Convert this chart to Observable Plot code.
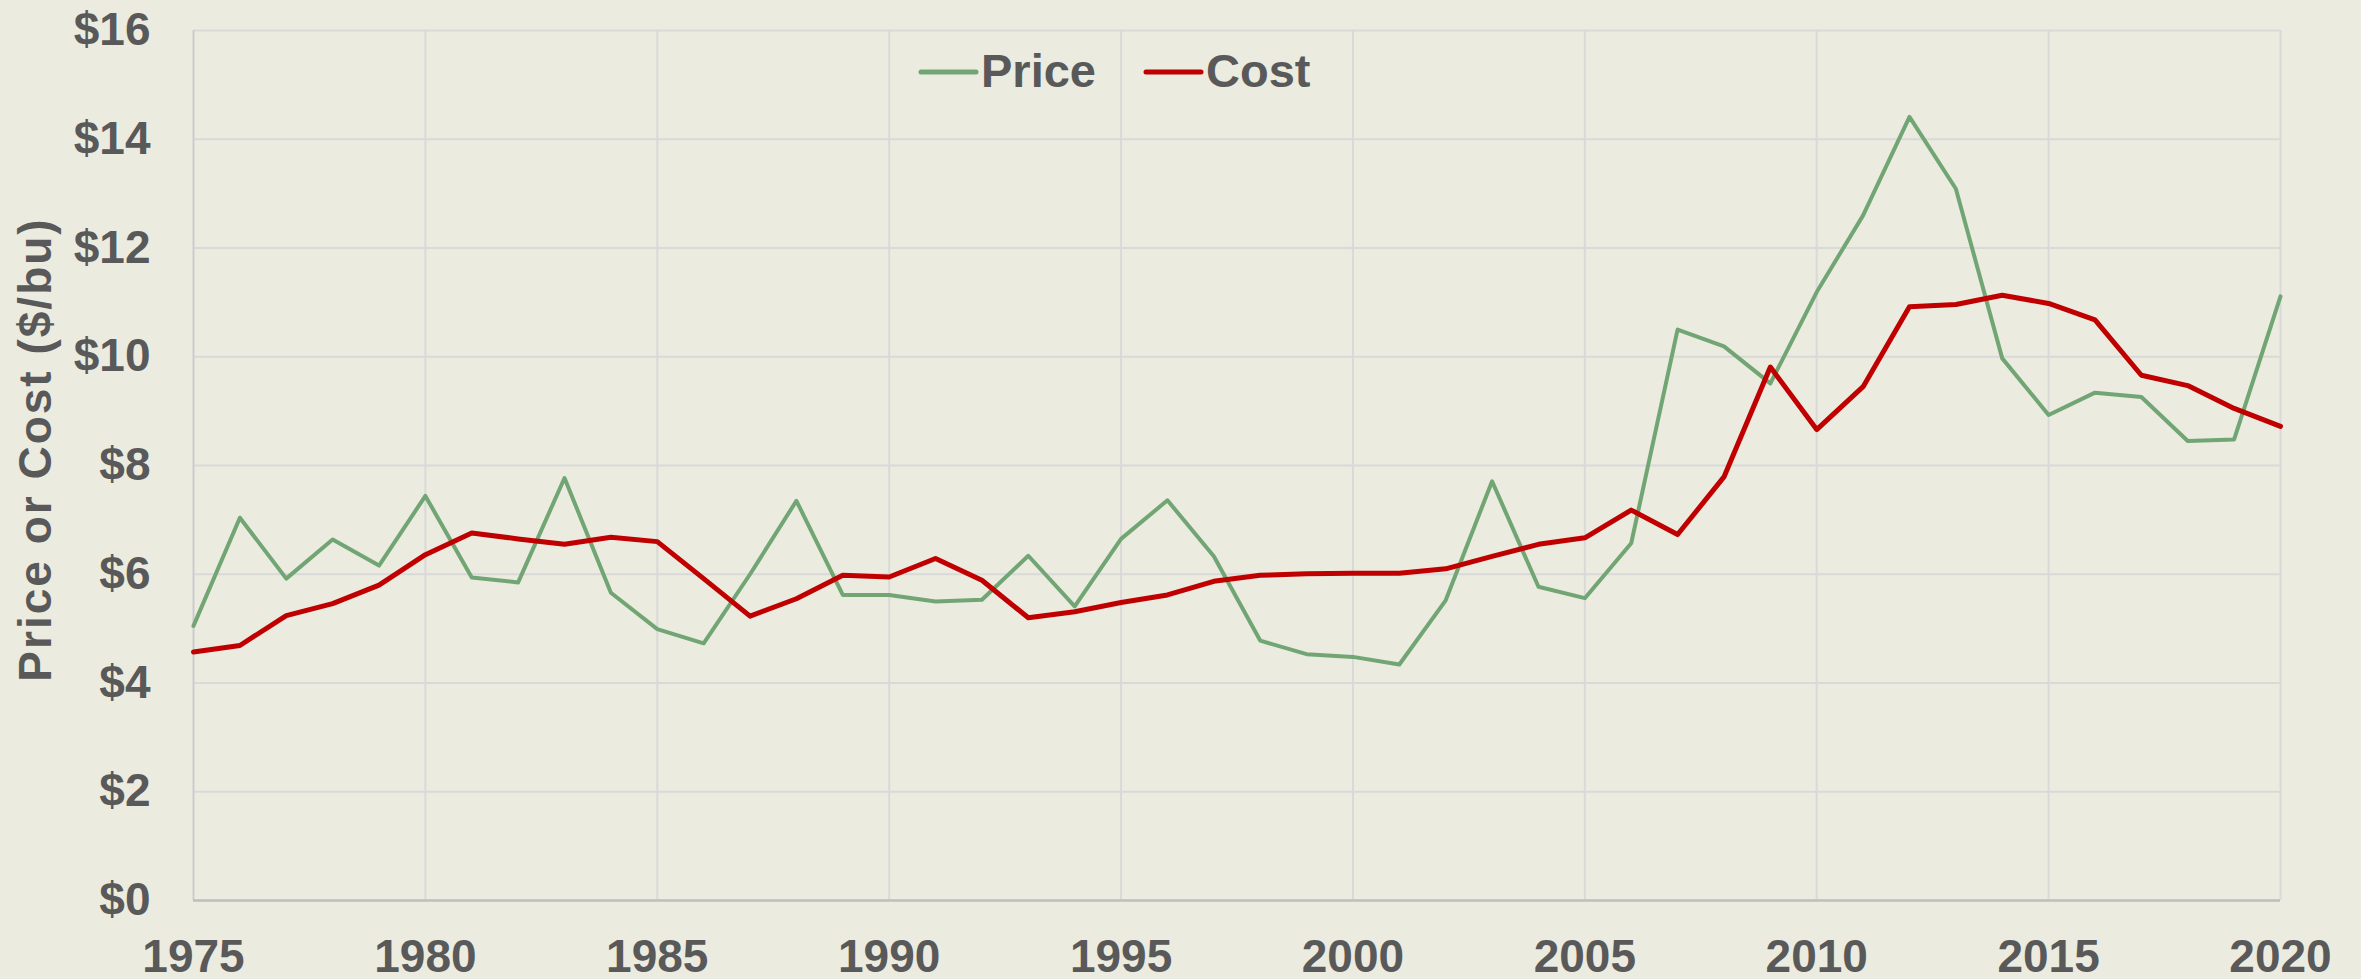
<!DOCTYPE html>
<html><head><meta charset="utf-8">
<script src="https://cdn.jsdelivr.net/npm/d3@7"></script>
<script src="https://cdn.jsdelivr.net/npm/@observablehq/plot@0.6"></script>
<style>
html,body{margin:0;padding:0;background:#EBEBE0;}
#wrap{position:relative;width:2361px;height:979px;overflow:hidden;font-family:"Liberation Sans",Arial,sans-serif;}
#legend{position:absolute;left:0;top:0;pointer-events:none;}
</style></head><body><div id="wrap"></div>
<script>
const years = [1975,1976,1977,1978,1979,1980,1981,1982,1983,1984,1985,1986,1987,1988,1989,1990,1991,1992,1993,1994,1995,1996,1997,1998,1999,2000,2001,2002,2003,2004,2005,2006,2007,2008,2009,2010,2011,2012,2013,2014,2015,2016,2017,2018,2019,2020];
const price = [5.05,7.04,5.92,6.64,6.16,7.44,5.94,5.85,7.77,5.66,4.99,4.73,6.0,7.35,5.62,5.62,5.50,5.53,6.34,5.41,6.65,7.36,6.33,4.78,4.53,4.48,4.34,5.52,7.71,5.77,5.56,6.57,10.50,10.19,9.51,11.19,12.60,14.41,13.09,9.97,8.93,9.34,9.26,8.45,8.48,11.11];
const cost = [4.57,4.69,5.24,5.46,5.80,6.36,6.76,6.65,6.55,6.68,6.60,5.92,5.23,5.55,5.98,5.95,6.29,5.89,5.20,5.31,5.48,5.62,5.87,5.98,6.01,6.02,6.02,6.10,6.33,6.55,6.67,7.18,6.73,7.79,9.81,8.66,9.45,10.92,10.96,11.13,10.98,10.68,9.66,9.47,9.05,8.72];
const xTicks = [1975,1980,1985,1990,1995,2000,2005,2010,2015,2020];
const yTicks = [0,2,4,6,8,10,12,14,16];
const yLabel = "Price or Cost ($/bu)";
const seriesNames = ["Price","Cost"];
const seriesColors = ["#71A674","#C00000"];

const priceRows = years.map((y,i)=>({year:y, value:price[i]}));
const costRows = years.map((y,i)=>({year:y, value:cost[i]}));

const chart = Plot.plot({
  width: 2361, height: 979,
  marginLeft: 193, marginRight: 81, marginTop: 30, marginBottom: 79,
  style: {background: "#EBEBE0", color: "#595959", fontFamily: "'Liberation Sans', Arial, sans-serif", fontSize: "46px", fontWeight: "bold"},
  x: {domain: [1975, 2020]},
  y: {domain: [0, 16]},
  marks: [
    Plot.gridX({ticks: xTicks, stroke: "#D9D9D9", strokeOpacity: 1, strokeWidth: 2}),
    Plot.gridY({ticks: yTicks, stroke: "#D9D9D9", strokeOpacity: 1, strokeWidth: 2}),
    Plot.ruleX([1975], {stroke: "#CACACA", strokeWidth: 1.5}),
    Plot.ruleY([0], {stroke: "#BFBFBF", strokeWidth: 2.5}),
    Plot.line(priceRows, {x: "year", y: "value", stroke: seriesColors[0], strokeWidth: 4}),
    Plot.line(costRows, {x: "year", y: "value", stroke: seriesColors[1], strokeWidth: 5}),
    Plot.axisX({ticks: xTicks, tickSize: 0, tickPadding: 39, tickFormat: d => String(d), label: null}),
    Plot.axisY({ticks: yTicks, tickSize: 0, tickPadding: 43, tickFormat: d => "$" + d, label: null}),
    Plot.text([yLabel], {text: d => d, frameAnchor: "left", rotate: -90, dx: -175, dy: -16, lineAnchor: "top", textAnchor: "middle", fontSize: 46, fontWeight: "bold", fill: "#595959"})
  ]
});
document.getElementById("wrap").appendChild(chart);
// letter spacing for the y label
d3.select(chart).selectAll("text").filter(function(){ return this.textContent === yLabel; }).attr("letter-spacing", "2");

// legend overlay
const legendItems = [
  {name: seriesNames[0], color: seriesColors[0], x1: 921, x2: 976, tx: 981},
  {name: seriesNames[1], color: seriesColors[1], x1: 1146, x2: 1201, tx: 1206}
];
const lg = d3.select("#wrap").append("svg").attr("id","legend").attr("width",2361).attr("height",140);
const gi = lg.selectAll("g").data(legendItems).join("g");
gi.append("line").attr("x1", d=>d.x1).attr("x2", d=>d.x2).attr("y1", 72).attr("y2", 72)
  .attr("stroke", d=>d.color).attr("stroke-width", 5).attr("stroke-linecap","round");
gi.append("text").attr("x", d=>d.tx).attr("y", 87).text(d=>d.name)
  .attr("fill","#595959").attr("font-size", 47).attr("font-weight","bold")
  .attr("font-family","'Liberation Sans', Arial, sans-serif");
</script></body></html>
